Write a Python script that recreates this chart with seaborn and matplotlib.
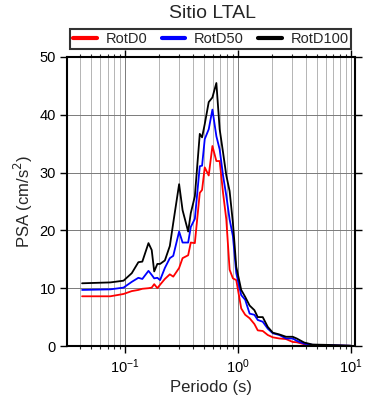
import numpy as np
import pandas as pd
import matplotlib
matplotlib.use("Agg")
import matplotlib.pyplot as plt
import seaborn as sns
from matplotlib.ticker import LogLocator, NullFormatter
from matplotlib.lines import Line2D

periods = [0.0415, 0.0738, 0.0967, 0.1145, 0.131, 0.142, 0.161, 0.172, 0.181, 0.193,
           0.204, 0.225, 0.249, 0.267, 0.301, 0.323, 0.362, 0.382, 0.415, 0.459,
           0.481, 0.508, 0.551, 0.594, 0.644, 0.689, 0.738, 0.789, 0.844, 0.903,
           0.967, 1.07, 1.16, 1.27, 1.40, 1.50, 1.66, 1.84, 2.04, 2.33,
           2.67, 3.06, 3.32, 3.87, 4.59, 6.02, 10.0]

rotd100 = [10.85, 11.0, 11.3, 12.6, 14.5, 14.6, 17.8, 16.6, 12.9, 14.2,
           14.2, 14.8, 17.3, 21.3, 28.0, 23.5, 19.8, 23.0, 25.9, 36.7,
           36.1, 38.4, 42.2, 43.0, 45.5, 37.5, 33.5, 29.5, 26.8, 21.3,
           13.7, 9.7, 8.5, 7.0, 6.2, 5.0, 5.0, 3.3, 2.3, 2.0,
           1.6, 1.6, 1.3, 0.6, 0.25, 0.2, 0.05]

rotd50 = [9.7, 9.8, 10.1, 11.1, 11.8, 11.6, 13.0, 12.3, 11.7, 11.8,
          11.4, 13.5, 15.2, 15.6, 19.8, 17.9, 17.9, 20.6, 22.0, 31.1,
          31.2, 35.8, 37.5, 40.9, 36.3, 34.0, 29.5, 26.0, 21.9, 19.0,
          12.6, 8.8, 8.0, 5.6, 5.4, 4.5, 4.2, 3.0, 2.2, 1.9,
          1.3, 1.3, 0.9, 0.4, 0.2, 0.15, 0.04]

rotd0 = [8.6, 8.6, 9.0, 9.5, 9.7, 9.9, 10.0, 10.1, 10.7, 10.0,
         10.6, 11.6, 12.4, 12.0, 13.5, 15.2, 15.7, 17.9, 17.8, 26.5,
         27.0, 30.9, 29.5, 34.6, 32.0, 32.0, 26.5, 21.9, 13.2, 11.7,
         11.4, 6.5, 5.4, 4.8, 3.8, 2.7, 2.6, 1.9, 1.5, 1.3,
         1.2, 0.7, 0.65, 0.3, 0.15, 0.1, 0.03]

series_names = ["RotD0", "RotD50", "RotD100"]
colors = ["#ff0000", "#0000ff", "#000000"]

df = pd.concat([
    pd.DataFrame({"Periodo": periods, "PSA": vals, "comp": name})
    for name, vals in zip(series_names, [rotd0, rotd50, rotd100])
])

sns.set_theme(style="white")
plt.rcParams["font.family"] = ["Liberation Sans", "DejaVu Sans"]

fig = plt.figure(figsize=(3.9, 4.0), dpi=100)
ax = fig.add_axes([0.1718, 0.135, 0.7382, 0.7225])

sns.lineplot(data=df, x="Periodo", y="PSA", hue="comp", hue_order=series_names,
             palette=colors, linewidth=1.3, ax=ax, legend=False, sort=False,
             estimator=None)

ax.set_xscale("log")
ax.set_xlim(0.0305, 10.9)
ax.set_ylim(0, 50)
ax.set_yticks([0, 10, 20, 30, 40, 50])
ax.xaxis.set_major_locator(LogLocator(base=10, numticks=10))
ax.xaxis.set_minor_locator(LogLocator(base=10, subs=np.arange(2, 10), numticks=20))
ax.xaxis.set_minor_formatter(NullFormatter())

ax.grid(True, which="major", axis="both", color="#7a7a7a", linewidth=0.7)
ax.grid(True, which="minor", axis="x", color="#a8a8a8", linewidth=0.6)
ax.set_axisbelow(True)

for s in ax.spines.values():
    s.set_visible(True)
    s.set_color("black")
    s.set_linewidth(1.5)

ax.tick_params(axis="both", which="major", direction="out", length=5, width=1,
               top=True, right=True, bottom=True, left=True, labelsize=10.5,
               colors="black", pad=3)
ax.tick_params(axis="x", which="minor", direction="out", length=2.5, width=0.8,
               top=True, bottom=True)

ax.set_xlabel("Periodo (s)", fontsize=12, labelpad=3)
ax.set_ylabel("PSA (cm/s$^2$)", fontsize=12, labelpad=3)
fig.text(0.545, 0.965, "Sitio LTAL", ha="center", va="center", fontsize=14)

handles = [Line2D([], [], color=c, linewidth=3) for c in colors]
leg = fig.legend(handles, series_names, loc="center", bbox_to_anchor=(0.541, 0.9025),
                 ncol=3, frameon=True, fontsize=10.5, handlelength=1.6,
                 columnspacing=1.0, handletextpad=0.6, borderpad=0.2,
                 fancybox=False, edgecolor="black")
leg.get_frame().set_linewidth(1.5)

fig.savefig("out.png", dpi=100)
